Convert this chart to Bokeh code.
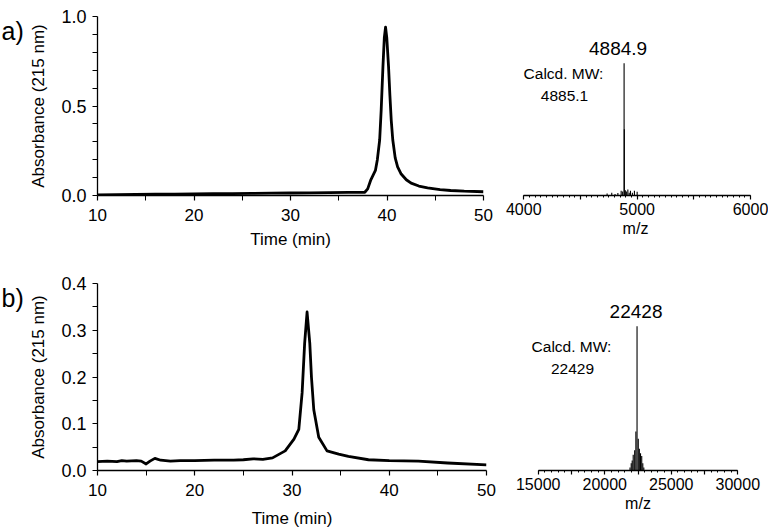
from bokeh.plotting import figure
from bokeh.models import Range1d, FixedTicker, Label, PrintfTickFormatter
from bokeh.core.properties import value
from bokeh.layouts import row, column
from bokeh.embed import file_html
from bokeh.resources import INLINE

FONT = "Liberation Sans"

# ---------------- data ----------------
# a) HPLC trace
time_a = [10, 12, 14, 16, 18, 20, 22, 24, 26, 28, 30, 32, 34, 36, 37, 37.7,
          38.0, 38.3, 38.8, 39.0, 39.24, 39.4, 39.58, 39.72, 39.85, 39.98, 40.16,
          40.3, 40.44, 40.6, 40.85, 41.1, 41.47, 42.0, 42.5, 43.3, 44.2, 45.5,
          46.6, 48, 50]
abs_a = [0.004, 0.005, 0.006, 0.007, 0.008, 0.009, 0.010, 0.011, 0.012, 0.013,
         0.014, 0.015, 0.016, 0.017, 0.017, 0.018,
         0.037, 0.084, 0.14, 0.20, 0.31, 0.48, 0.72, 0.88, 0.94, 0.88, 0.72,
         0.56, 0.42, 0.31, 0.21, 0.16, 0.12, 0.088, 0.069, 0.053, 0.043, 0.033,
         0.028, 0.024, 0.021]
# a) mass spectrum
mz_a = [4735, 4776, 4805, 4830, 4859, 4872, 4884.9, 4887, 4896, 4905, 4918,
        4930, 4941, 4958, 4976, 5000]
int_a = [0.015, 0.02, 0.012, 0.018, 0.035, 0.03, 1.0, 0.5, 0.04, 0.03, 0.045,
         0.02, 0.035, 0.02, 0.035, 0.028]
peak_a = "4884.9"
calc_a = "4885.1"

# b) HPLC trace
time_b = [10, 11, 12, 12.5, 13, 14, 14.5, 15.0, 15.4, 15.9, 16.5, 17.5, 18.5,
          20, 22, 24, 25, 26, 27, 28, 29.3, 30.2, 30.7, 31.04, 31.3, 31.55,
          31.83, 32.0, 32.24, 32.75, 33.6, 34.8, 35.8, 37.86, 40, 43, 46, 50]
abs_b = [0.019, 0.020, 0.019, 0.021, 0.020, 0.021, 0.020, 0.014, 0.020, 0.026,
         0.022, 0.020, 0.021, 0.021, 0.022, 0.022, 0.023, 0.025, 0.024, 0.027,
         0.042, 0.067, 0.088, 0.166, 0.272, 0.339, 0.272, 0.20, 0.13, 0.071,
         0.042, 0.035, 0.030, 0.023, 0.021, 0.020, 0.016, 0.012]
# b) mass spectrum
mz_b = [21900, 21990, 22064, 22140, 22250, 22340, 22428, 22520, 22600, 22690,
        22780, 22860, 22937]
int_b = [0.02, 0.05, 0.07, 0.11, 0.14, 0.27, 1.0, 0.22, 0.15, 0.12, 0.10,
         0.05, 0.02]
peak_b = "22428"
calc_b = "22429"

# ticks
chrom_x_major = [10, 20, 30, 40, 50]
chrom_x_minor = [15, 25, 35, 45]
chrom_a_y_major = [0.0, 0.5, 1.0]
chrom_a_y_minor = [0.1, 0.2, 0.3, 0.4, 0.6, 0.7, 0.8, 0.9]
chrom_b_y_major = [0.0, 0.1, 0.2, 0.3, 0.4]
chrom_b_y_minor = [0.05, 0.15, 0.25, 0.35]
ms_a_major = [4000, 4500, 5000, 5500, 6000]
ms_a_labels = {4500: "", 5500: ""}
ms_b_major = [15000, 17500, 20000, 22500, 25000, 27500, 30000]
ms_b_labels = {17500: "", 22500: "", 27500: ""}


def style_axis(ax, size, tick_out=5, minor_out=5):
    ax.axis_line_width = 1.3
    ax.axis_line_color = "black"
    ax.major_tick_line_color = "black"
    ax.minor_tick_line_color = "black"
    ax.major_tick_line_width = 1.2
    ax.minor_tick_line_width = 1.0
    ax.major_tick_in = 0
    ax.minor_tick_in = 0
    ax.major_tick_out = tick_out
    ax.minor_tick_out = minor_out
    ax.major_label_text_font = FONT
    ax.major_label_text_font_size = size
    ax.major_label_text_color = "black"
    ax.axis_label_text_font = FONT
    ax.axis_label_text_font_size = size
    ax.axis_label_text_font_style = "normal"
    ax.axis_label_text_color = "black"


def base_fig(w, h, xr, yr, left, right, top, bottom, yaxis=True, xaxis=True):
    kw = dict(width=w, height=h, x_range=xr, y_range=yr,
              output_backend="svg", toolbar_location=None,
              min_border_left=left, min_border_right=right,
              min_border_top=top, min_border_bottom=bottom)
    if not yaxis:
        kw["y_axis_type"] = None
    if not xaxis:
        kw["x_axis_type"] = None
    p = figure(**kw)
    p.outline_line_color = None
    p.xgrid.visible = False
    p.ygrid.visible = False
    p.background_fill_color = "white"
    p.border_fill_color = "white"
    return p


def tag_fig(tag, w, h):
    p = base_fig(w, h, Range1d(0, w), Range1d(0, h), 0, 0, 0, 0,
                 yaxis=False, xaxis=False)
    p.text(x=[1], y=[h - 1], text=[tag], text_font=value(FONT),
           text_font_size="25px", text_color="black", text_baseline="top",
           text_align="left")
    return p


def chrom(t, a, ymax, ymaj, ymin, w, h, left, right, top, bottom, lab_standoff):
    p = base_fig(w, h, Range1d(10, 50), Range1d(0, ymax), left, right, top, bottom)
    p.line(t, a, line_color="black", line_width=2.8, line_join="round")
    p.xaxis.ticker = FixedTicker(ticks=chrom_x_major, minor_ticks=chrom_x_minor)
    p.yaxis.ticker = FixedTicker(ticks=ymaj, minor_ticks=ymin)
    p.yaxis.formatter = PrintfTickFormatter(format="%.1f")
    style_axis(p.xaxis[0], "17px")
    style_axis(p.yaxis[0], "17px")
    p.yaxis.major_label_text_font_size = "18px"
    p.xaxis.axis_label = "Time (min)"
    p.yaxis.axis_label = "Absorbance (215 nm)"
    p.xaxis.major_label_standoff = 8
    p.yaxis.major_label_standoff = 6
    p.xaxis.axis_label_standoff = lab_standoff
    p.yaxis.axis_label_standoff = 10
    return p


def ms(mz, inten, xr, bounds, ymax, ticks, overrides, minors, w, h, left, right,
       top, bottom, peak_label, calc_label, calc_xy, peak_dx, peak_dy):
    p = base_fig(w, h, xr, Range1d(0, ymax), left, right, top, bottom, yaxis=False)
    p.segment(x0=mz, y0=[0] * len(mz), x1=mz, y1=inten, line_color="black",
              line_width=1.1)
    p.xaxis.ticker = FixedTicker(ticks=ticks, minor_ticks=minors)
    p.xaxis.major_label_overrides = overrides
    p.xaxis.bounds = bounds
    style_axis(p.xaxis[0], "16px", tick_out=4, minor_out=2)
    p.xaxis.axis_label = "m/z"
    p.xaxis.major_label_standoff = 3
    p.xaxis.axis_label_standoff = 2
    i = inten.index(max(inten))
    p.add_layout(Label(x=mz[i], y=inten[i], text=peak_label, text_font=FONT,
                       text_font_size="19px", text_color="black",
                       text_align="center", text_baseline="bottom",
                       x_offset=peak_dx, y_offset=peak_dy))
    cx, cy = calc_xy
    p.add_layout(Label(x=cx, y=cy, x_units="screen", y_units="screen",
                       text="Calcd. MW:", text_font=FONT, text_font_size="15.5px",
                       text_color="black", text_align="center",
                       text_baseline="middle"))
    p.add_layout(Label(x=cx + 1, y=cy - 22, x_units="screen", y_units="screen",
                       text=calc_label, text_font=FONT, text_font_size="15.5px",
                       text_color="black", text_align="center",
                       text_baseline="middle"))
    return p


TAG_W = 26
ta = tag_fig("a)", TAG_W, 258)
fa1 = chrom(time_a, abs_a, 1.0, chrom_a_y_major, chrom_a_y_minor,
            500 - TAG_W, 258, 94 - TAG_W, 17, 16, 63, 6)
# frame of MS a: x 515..755 (page), axis 4000..6000 spans 523.3..750
fa2 = ms(mz_a, int_a, Range1d(3927, 6044), (4000, 6000), 184 / 136, ms_a_major,
         ms_a_labels, list(range(4000, 6001, 50)), 268, 258, 15, 13, 16, 58,
         peak_a, calc_a, (48, 122), -6, 8)
tb = tag_fig("b)", TAG_W, 272)
fb1 = chrom(time_b, abs_b, 0.4, chrom_b_y_major, chrom_b_y_minor,
            500 - TAG_W, 272, 94 - TAG_W, 14, 11, 58, 10)
# frame of MS b: x 525..750, axis 15000..30000 spans 537.7..737.3
fb2 = ms(mz_b, int_b, Range1d(14046, 30954), (15000, 30000), 188 / 145,
         ms_b_major, ms_b_labels, list(range(15000, 30001, 500)), 268, 272, 25,
         18, 25, 59, peak_b, calc_b, (46, 124), -1, 8)

layout = column(row(ta, fa1, fa2), row(tb, fb1, fb2))

open("out.html", "w").write(file_html(layout, INLINE))
